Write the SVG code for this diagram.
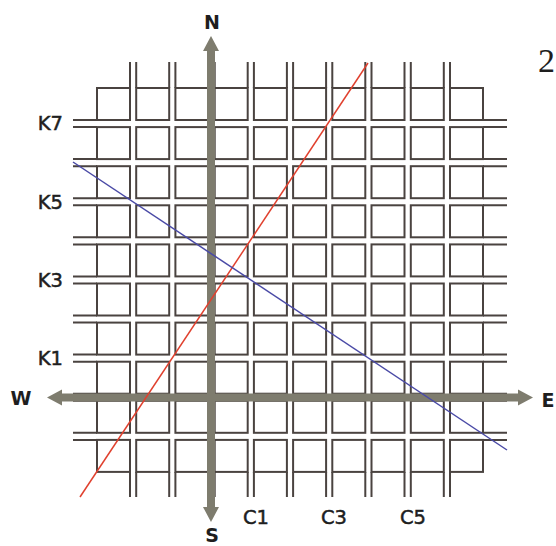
<svg xmlns="http://www.w3.org/2000/svg" xmlns:xlink="http://www.w3.org/1999/xlink" width="556" height="546" viewBox="0 0 556 546">
<style>
.blk{fill:none;stroke:#4a4340;stroke-width:2}
.ext{fill:none;stroke:#4a4340;stroke-width:2}
.axis{fill:none;stroke:#7e7c6e;stroke-width:8}
.head{fill:#7e7c6e}
.lbl{font-family:"DejaVu Sans",Verdana,sans-serif;font-size:19.5px;fill:#1e1e1e;stroke:#1e1e1e;stroke-width:0.5}
.dir{font-family:"DejaVu Sans",Verdana,sans-serif;font-size:19px;font-weight:bold;fill:#1e1e1e}
</style>
<defs>
<g id="row">
<rect class="blk" x="97" y="0" width="33" height="32"/>
<rect class="blk" x="136.2" y="0" width="33" height="32"/>
<rect class="blk" x="175.4" y="0" width="33" height="32"/>
<rect class="blk" x="214.7" y="0" width="33" height="32"/>
<rect class="blk" x="253.9" y="0" width="33" height="32"/>
<rect class="blk" x="293.1" y="0" width="33" height="32"/>
<rect class="blk" x="332.3" y="0" width="33" height="32"/>
<rect class="blk" x="371.5" y="0" width="33" height="32"/>
<rect class="blk" x="410.8" y="0" width="33" height="32"/>
<rect class="blk" x="450" y="0" width="33" height="32"/>
</g>
</defs>
<g id="grid">
<use xlink:href="#row" y="88"/>
<use xlink:href="#row" y="127.1"/>
<use xlink:href="#row" y="166.2"/>
<use xlink:href="#row" y="205.3"/>
<use xlink:href="#row" y="244.4"/>
<use xlink:href="#row" y="283.5"/>
<use xlink:href="#row" y="322.6"/>
<use xlink:href="#row" y="361.7"/>
<use xlink:href="#row" y="400.8"/>
<use xlink:href="#row" y="439.9"/>
</g>
<g id="street-ends">
<path class="ext" d="M130,62V88M136.2,62V88M169.2,62V88M175.4,62V88M208.4,62V88M214.7,62V88M247.7,62V88M253.9,62V88M286.9,62V88M293.1,62V88M326.1,62V88M332.3,62V88M365.3,62V88M371.5,62V88M404.5,62V88M410.8,62V88M443.8,62V88M450,62V88"/>
<path class="ext" d="M130,472V497M136.2,472V497M169.2,472V497M175.4,472V497M208.4,472V497M214.7,472V497M247.7,472V497M253.9,472V497M286.9,472V497M293.1,472V497M326.1,472V497M332.3,472V497M365.3,472V497M371.5,472V497M404.5,472V497M410.8,472V497M443.8,472V497M450,472V497"/>
<path class="ext" d="M73,120H97M73,127.1H97M73,159.1H97M73,166.2H97M73,198.2H97M73,205.3H97M73,237.3H97M73,244.4H97M73,276.4H97M73,283.5H97M73,315.5H97M73,322.6H97M73,354.6H97M73,361.7H97M73,393.7H97M73,400.8H97M73,432.8H97M73,439.9H97"/>
<path class="ext" d="M483,120H507M483,127.1H507M483,159.1H507M483,166.2H507M483,198.2H507M483,205.3H507M483,237.3H507M483,244.4H507M483,276.4H507M483,283.5H507M483,315.5H507M483,322.6H507M483,354.6H507M483,361.7H507M483,393.7H507M483,400.8H507M483,432.8H507M483,439.9H507"/>
</g>
<g id="axes">
<line class="axis" x1="211" y1="48" x2="211" y2="509"/>
<polygon class="head" points="211,36 203,51 219,51"/>
<polygon class="head" points="211,522 203,507 219,507"/>
<line class="axis" x1="60" y1="397.5" x2="520" y2="397.5"/>
<polygon class="head" points="47,397.5 62,389.5 62,405.5"/>
<polygon class="head" points="533,397.5 518,389.5 518,405.5"/>
</g>
<g id="lines">
<line x1="80" y1="497" x2="368" y2="63" stroke="#e0402e" stroke-width="1.5"/>
<line x1="73" y1="162" x2="507" y2="450" stroke="#4a4aa6" stroke-width="1.5"/>
</g>
<g id="labels">
<text class="dir" x="212" y="29" text-anchor="middle">N</text>
<text class="dir" x="212" y="542" text-anchor="middle">S</text>
<text class="dir" x="21" y="405" text-anchor="middle">W</text>
<text class="dir" x="548" y="407" text-anchor="middle">E</text>
<text class="lbl" x="63" y="130" text-anchor="end">K7</text>
<text class="lbl" x="63" y="209" text-anchor="end">K5</text>
<text class="lbl" x="63" y="287" text-anchor="end">K3</text>
<text class="lbl" x="63" y="365" text-anchor="end">K1</text>
<text class="lbl" x="256" y="524" text-anchor="middle">C1</text>
<text class="lbl" x="334" y="524" text-anchor="middle">C3</text>
<text class="lbl" x="413" y="524" text-anchor="middle">C5</text>
<text x="538" y="72" font-family="'Liberation Serif','Times New Roman',serif" font-size="34" fill="#1e1e1e">2</text>
</g>
</svg>
